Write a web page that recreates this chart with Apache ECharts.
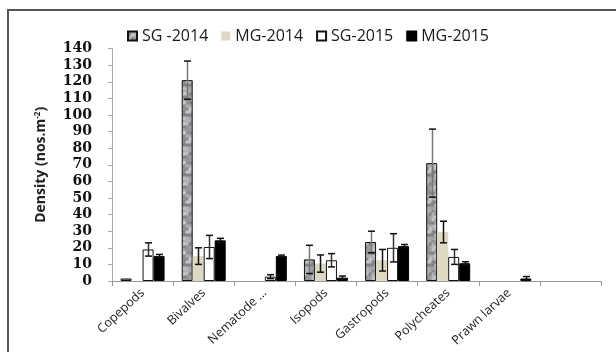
<!DOCTYPE html>
<html><head><meta charset="utf-8">
<script src="https://cdn.jsdelivr.net/npm/echarts@6/dist/echarts.min.js"></script>
<style>html,body{margin:0;padding:0;background:#fff}#c{width:616px;height:352px}</style>
</head><body><div id="c"></div>
<script>
var categories = ['Copepods','Bivalves','Nematode ...','Isopods','Gastropods','Polycheates','Prawn larvae',''];
var seriesNames = ['SG -2014','MG-2014','SG-2015','MG-2015'];
var sg2014 = [1.5, 121, null, 13, 23.5, 71, null, null];
var sg2014Err = [0, 11.5, 0, 8.5, 6.5, 20.5, 0, 0];
var mg2014 = [null, 15, null, 10.5, 12.5, 29.5, null, null];
var mg2014Err = [0, 5, 0, 5.2, 6.5, 6.5, 0, 0];
var sg2015 = [19, 20.5, 2.6, 12.5, 20, 14.5, null, null];
var sg2015Err = [4, 7, 1.2, 4, 8.5, 4.5, 0, 0];
var mg2015 = [15, 24.5, 15, 2, 21, 10.7, 1.5, null];
var mg2015Err = [1, 1.2, 0.6, 1, 1, 0.9, 1.2, 0];
var yTicks = [0,10,20,30,40,50,60,70,80,90,100,110,120,130,140];

// speckled texture for SG-2014
var tex = document.createElement('canvas');
tex.width = 30; tex.height = 30;
var tctx = tex.getContext('2d');
tctx.fillStyle = '#a8a8ac';
tctx.fillRect(0, 0, 30, 30);
for (var yy = 0; yy < 30; yy += 3) {
  for (var xx = 0; xx < 30; xx += 3) {
    var h = Math.sin(xx * 12.9898 + yy * 78.233) * 43758.5453;
    h = h - Math.floor(h);
    var g = Math.round(115 + h * 105);
    tctx.fillStyle = 'rgba(' + g + ',' + g + ',' + (g + 4) + ',0.8)';
    tctx.beginPath();
    tctx.arc(xx + 1.5, yy + 1.5, 2.2, 0, Math.PI * 2);
    tctx.fill();
  }
}
var texColor = {image: tex, repeat: 'repeat'};

var BW = 11;
var values = [sg2014, mg2014, sg2015, mg2015];
var errs = [sg2014Err, mg2014Err, sg2015Err, mg2015Err];
var styles = [
  {color: texColor, borderColor: '#111', borderWidth: 1},
  {color: '#ddd9c3', borderWidth: 0},
  {color: '#ffffff', borderColor: '#111', borderWidth: 1},
  {color: '#000000', borderColor: '#000', borderWidth: 1}
];
var vertColors = ['#777', '#111', '#333', '#111'];

var series = [];
values.forEach(function (v, i) {
  series.push({
    name: seriesNames[i], type: 'bar', data: v, barWidth: BW, barGap: '0%',
    itemStyle: styles[i], z: 2
  });
});
values.forEach(function (v, i) {
  var d = [];
  v.forEach(function (val, k) {
    if (val != null && errs[i][k] > 0) d.push([k, val - errs[i][k], val + errs[i][k]]);
  });
  series.push({
    type: 'custom', data: d, z: 5, silent: true,
    renderItem: function (params, api) {
      var lo = api.coord([api.value(0), api.value(1)]);
      var hi = api.coord([api.value(0), api.value(2)]);
      var x = Math.round(lo[0] + (i - 1.5) * BW) + 0.5;
      var cw = 3.5;
      return {type: 'group', children: [
        {type: 'line', shape: {x1: x, y1: hi[1], x2: x, y2: lo[1]}, style: {stroke: vertColors[i], lineWidth: 1.5}},
        {type: 'line', shape: {x1: x - cw, y1: hi[1], x2: x + cw, y2: hi[1]}, style: {stroke: '#111', lineWidth: 1.5}},
        {type: 'line', shape: {x1: x - cw, y1: lo[1], x2: x + cw, y2: lo[1]}, style: {stroke: '#111', lineWidth: 1.5}}
      ]};
    }
  });
});

var chart = echarts.init(document.getElementById('c'), null, {renderer: 'canvas'});
chart.setOption({
  animation: false,
  backgroundColor: '#fff',
  graphic: [{type: 'rect', shape: {x: 8, y: 10, width: 700, height: 400}, style: {fill: 'none', stroke: '#555', lineWidth: 2}, z: 100}],
  legend: {
    left: 122, top: 23, itemWidth: 9, itemHeight: 9, itemGap: 13,
    data: seriesNames,
    textStyle: {fontFamily: 'Open Sans', fontSize: 16, color: '#1a1a1a'},
    icon: 'rect'
  },
  grid: {left: 112, right: 15, top: 48.6, bottom: 71},
  xAxis: {
    type: 'category', data: categories,
    axisLine: {lineStyle: {color: '#999', width: 1}},
    axisTick: {show: true, length: 5, alignWithLabel: false, lineStyle: {color: '#999'}},
    axisLabel: {rotate: 43, interval: 0, fontFamily: 'Open Sans', fontSize: 12.5, color: '#222', margin: 10}
  },
  yAxis: {
    type: 'value', min: 0, max: 140, interval: 10,
    name: '{a|Density (nos.m}{b|-2}{a|)}',
    nameLocation: 'middle', nameGap: 63,
    nameTextStyle: {rich: {
      a: {fontFamily: 'Open Sans', fontWeight: 'bold', fontSize: 14, color: '#222'},
      b: {fontFamily: 'Open Sans', fontWeight: 'bold', fontSize: 8, color: '#222', padding: [0, 0, 7, 0]}
    }},
    axisLine: {show: true, lineStyle: {color: '#aaa'}},
    axisTick: {show: true, length: 4, lineStyle: {color: '#aaa'}},
    splitLine: {show: false},
    axisLabel: {
      fontFamily: 'DejaVu Serif', fontWeight: 'bold', fontSize: 14, color: '#111', margin: 20,
      formatter: function (v) { return yTicks.indexOf(v) >= 0 ? String(v) : ''; }
    }
  },
  series: series
});
</script></body></html>
